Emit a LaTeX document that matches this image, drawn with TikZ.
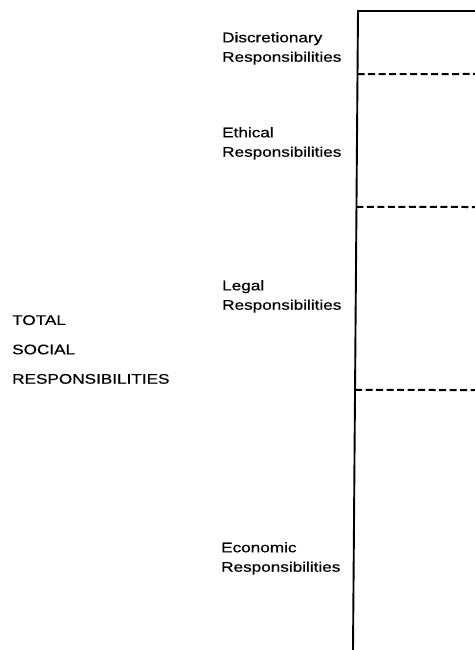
\documentclass[tikz,border=0pt]{standalone}
\usepackage{fontspec}
\setmainfont{Liberation Sans}[FakeStretch=1.23,FakeBold=0.5]
\usetikzlibrary{calc}
\begin{document}
\begin{tikzpicture}[x=1bp,y=-1bp,
  lbl/.style={anchor=north west,inner sep=0pt,align=left,font=\fontsize{14}{19.5}\selectfont},
  big/.style={anchor=north west,inner sep=0pt,align=left,font=\fontsize{14}{29.5}\selectfont},
  frame/.style={line width=1.9bp},
  divider/.style={line width=2bp,dash pattern=on 7bp off 3.5bp}]
\useasboundingbox (0,0) rectangle (475,650);
\fill[white] (0,0) rectangle (475,650);
% labels
\node[lbl] (disc) at (222,32) {Discretionary\\Responsibilities};
\node[lbl] (eth) at (222,127) {Ethical\\Responsibilities};
\node[lbl] (leg) at (222,280) {Legal\\Responsibilities};
\node[lbl] (eco) at (221,542) {Economic\\Responsibilities};
\node[big] (total) at (12,315) {TOTAL\\SOCIAL\\RESPONSIBILITIES};
% frame
\coordinate (tl) at (358,11);
\coordinate (tr) at (475,11);
\coordinate (bl) at (353,650);
\draw[frame] (tr) -- (tl) -- (bl);
% dividers
\coordinate (d1a) at ($(tl)!0.0986!(bl)$);
\coordinate (d1b) at (475,74);
\coordinate (d2a) at ($(tl)!0.3067!(bl)$);
\coordinate (d2b) at (475,207);
\coordinate (d3a) at ($(tl)!0.5931!(bl)$);
\coordinate (d3b) at (475,390);
\draw[divider] (d1a) -- (d1b);
\draw[divider] (d2a) -- (d2b);
\draw[divider] (d3a) -- (d3b);
\end{tikzpicture}
\end{document}
